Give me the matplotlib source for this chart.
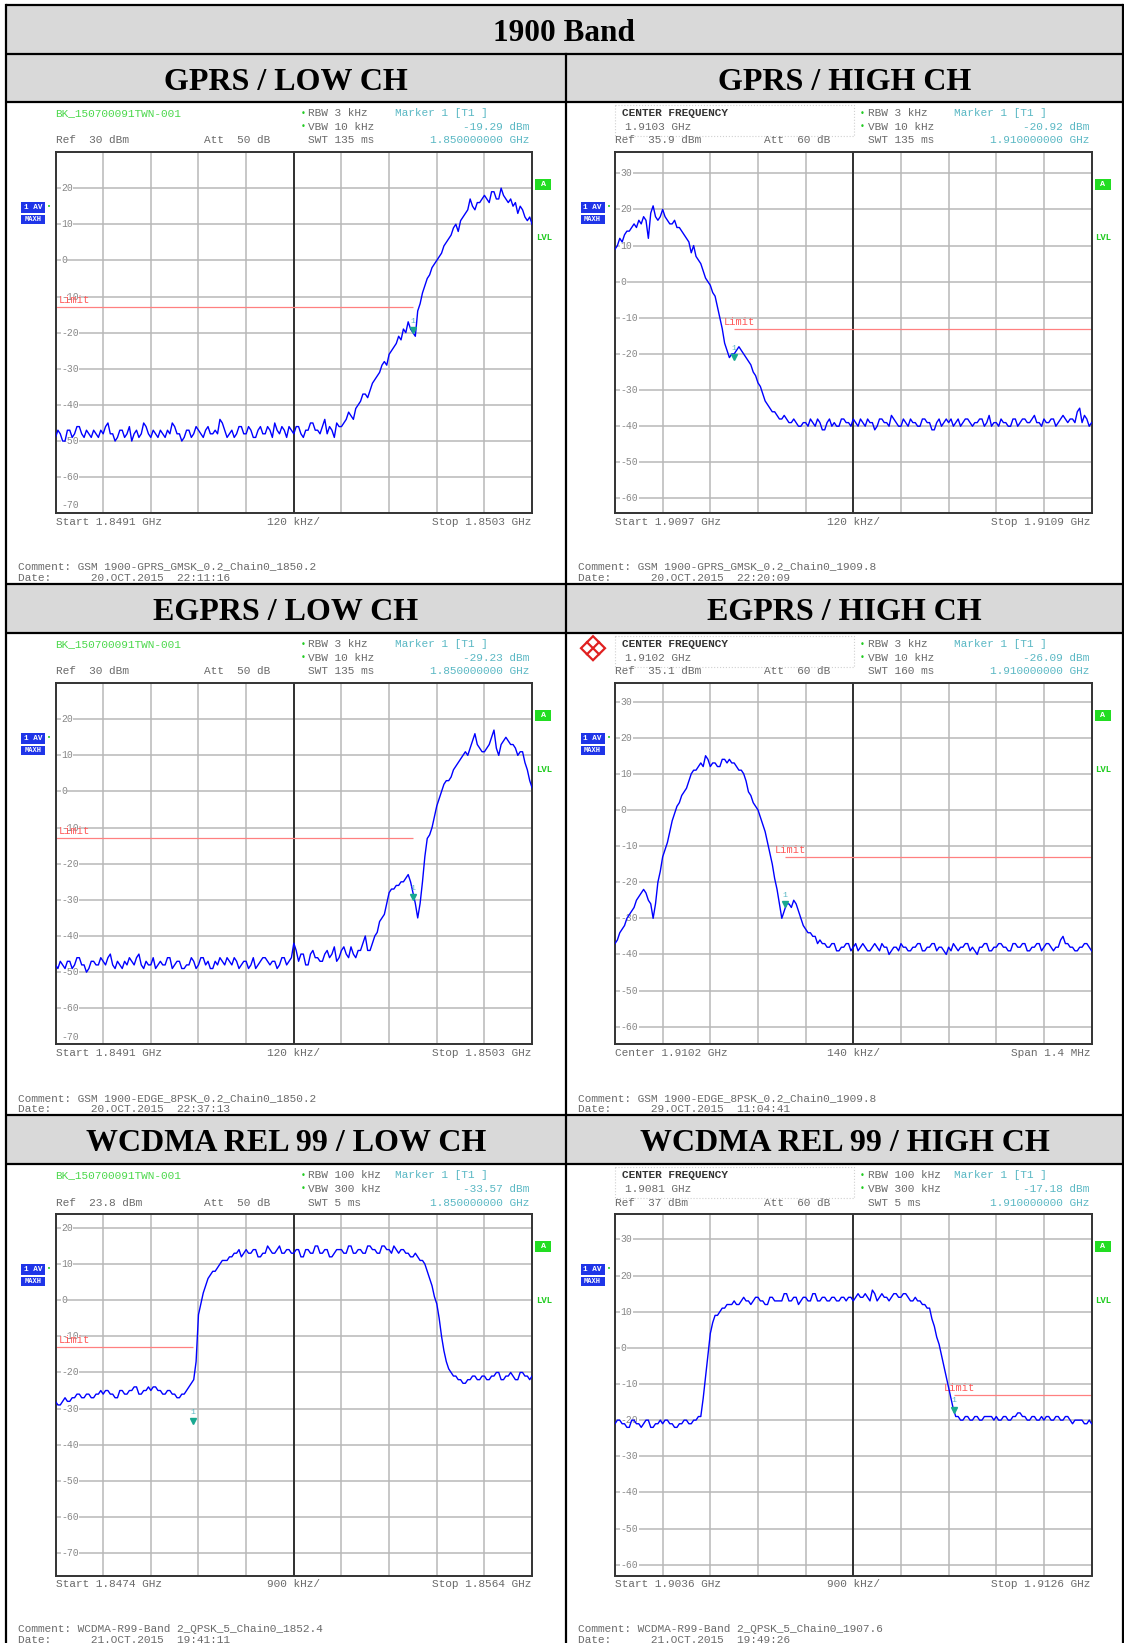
import numpy as np
import matplotlib
matplotlib.use("Agg")
import matplotlib.pyplot as plt
from matplotlib.patches import Rectangle, Polygon

W, H = 1124, 1643
MONO = "Liberation Mono"
SERIF = "Liberation Serif"

# ---- data ----
BAND_TITLE = "1900 Band"
HEADERS = ["GPRS / LOW CH", "GPRS / HIGH CH", "EGPRS / LOW CH", "EGPRS / HIGH CH",
           "WCDMA REL 99 / LOW CH", "WCDMA REL 99 / HIGH CH"]
REF_DBM = [30, 35.9, 30, 35.1, 23.8, 37]
OFFSET_DB = ["13.9", "13.9", "13.9", "13.9", "13.5", "13.5"]
ATT_DB = ["50", "60", "50", "60", "50", "60"]
RBW = ["3 kHz", "3 kHz", "3 kHz", "3 kHz", "100 kHz", "100 kHz"]
VBW = ["10 kHz", "10 kHz", "10 kHz", "10 kHz", "300 kHz", "300 kHz"]
SWT = ["135 ms", "135 ms", "135 ms", "160 ms", "5 ms", "5 ms"]
CENTER_FREQ = [None, "1.9103 GHz", None, "1.9102 GHz", None, "1.9081 GHz"]
MARKER_DBM = [-19.29, -20.92, -29.23, -26.09, -33.57, -17.18]
MARKER_GHZ = ["1.850000000", "1.910000000", "1.850000000",
              "1.910000000", "1.850000000", "1.910000000"]
MARKER_DIV = [7.5, 2.5, 7.5, 3.57, 2.89, 7.11]
LIMIT_DBM = -13
LIMIT_FROM = [0, 2.5, 0, 3.57, 0, 7.11]
LIMIT_TO = [7.5, 10, 7.5, 10, 2.89, 10]
AXIS_LEFT = ["Start 1.8491 GHz", "Start 1.9097 GHz", "Start 1.8491 GHz",
             "Center 1.9102 GHz", "Start 1.8474 GHz", "Start 1.9036 GHz"]
AXIS_MID = ["120 kHz/", "120 kHz/", "120 kHz/", "140 kHz/", "900 kHz/", "900 kHz/"]
AXIS_RIGHT = ["Stop 1.8503 GHz", "Stop 1.9109 GHz", "Stop 1.8503 GHz",
              "Span 1.4 MHz", "Stop 1.8564 GHz", "Stop 1.9126 GHz"]
COMMENTS = ["Comment: GSM 1900-GPRS_GMSK_0.2_Chain0_1850.2",
            "Comment: GSM 1900-GPRS_GMSK_0.2_Chain0_1909.8",
            "Comment: GSM 1900-EDGE_8PSK_0.2_Chain0_1850.2",
            "Comment: GSM 1900-EDGE_8PSK_0.2_Chain0_1909.8",
            "Comment: WCDMA-R99-Band 2_QPSK_5_Chain0_1852.4",
            "Comment: WCDMA-R99-Band 2_QPSK_5_Chain0_1907.6"]
DATES = ["20.OCT.2015  22:11:16", "20.OCT.2015  22:20:09", "20.OCT.2015  22:37:13",
         "29.OCT.2015  11:04:41", "21.OCT.2015  19:41:11", "21.OCT.2015  19:49:26"]

# traces in dBm, one value every 0.05 division (20 per grid division)
TRACE_GPRS_LOW = [
    -49, -47, -48, -50, -50, -47, -47, -49, -48, -46, -46, -48, -49, -47, -48, -49, -47, -48, -49, -47,
    -48, -46, -45, -48, -48, -50, -49, -47, -47, -49, -48, -46, -50, -48, -47, -49, -48, -45, -46, -48,
    -49, -47, -48, -49, -47, -48, -49, -47, -48, -45, -46, -48, -48, -50, -49, -47, -47, -49, -48, -46,
    -47, -48, -49, -47, -46, -48, -48, -47, -48, -44, -45, -47, -49, -48, -47, -49, -48, -46, -46, -48,
    -48, -46, -47, -49, -49, -47, -46, -48, -48, -46, -47, -49, -45, -47, -48, -46, -47, -49, -46, -47,
    -48, -46, -46, -48, -49, -47, -47, -45, -45, -47, -47, -48, -46, -44, -48, -46, -47, -49, -45, -46,
    -46, -45, -44, -42, -43, -44, -41, -40, -39, -37, -37, -38, -36, -34, -33, -32, -31, -29, -28, -29,
    -26, -25, -24, -23, -21, -22, -19, -20, -17, -19, -20, -21, -14, -12, -9, -7, -5, -4, -2, -1,
    0, 1, 2, 4, 5, 6, 7, 9, 10, 8, 11, 12, 13, 14, 17, 15, 14, 16, 16, 17,
    18, 17, 16, 19, 19, 17, 17, 20, 18, 17, 16, 17, 15, 16, 13, 15, 14, 12, 11, 12, 10]
TRACE_GPRS_HIGH = [
    9, 10, 12, 11, 13, 14, 14, 15, 16, 15, 17, 16, 18, 17, 12, 19, 21, 18, 17, 18,
    20, 18, 17, 16, 16, 17, 15, 15, 14, 13, 12, 11, 8, 10, 7, 6, 5, 3, 1, 0,
    -1, -3, -4, -7, -10, -13, -17, -19, -21, -20, -20, -19, -18, -19, -20, -21, -22, -23, -25, -26,
    -28, -29, -31, -33, -34, -35, -36, -36, -37, -38, -38, -37, -38, -39, -39, -38, -39, -40, -40, -39,
    -39, -40, -38, -39, -40, -38, -39, -41, -41, -39, -38, -40, -39, -40, -40, -38, -38, -39, -39, -40,
    -38, -39, -40, -38, -39, -40, -38, -39, -39, -41, -40, -38, -38, -39, -39, -40, -37, -38, -39, -40,
    -40, -38, -39, -40, -38, -39, -39, -40, -40, -38, -38, -39, -39, -41, -41, -39, -38, -40, -39, -38,
    -39, -38, -40, -39, -38, -40, -39, -38, -38, -39, -40, -39, -39, -38, -38, -40, -39, -37, -40, -39,
    -39, -40, -38, -39, -39, -40, -40, -38, -38, -40, -39, -38, -38, -39, -39, -38, -37, -39, -39, -40,
    -38, -39, -39, -38, -38, -40, -39, -38, -37, -38, -39, -38, -38, -39, -36, -35, -39, -37, -38, -40, -39]
TRACE_EGPRS_LOW = [
    -48, -49, -47, -48, -49, -47, -47, -49, -48, -46, -46, -48, -48, -50, -49, -47, -47, -48, -48, -46,
    -47, -48, -46, -45, -48, -49, -47, -48, -49, -47, -48, -46, -47, -48, -46, -45, -48, -49, -47, -48,
    -48, -46, -49, -48, -47, -48, -48, -46, -46, -49, -48, -47, -47, -49, -49, -48, -48, -46, -47, -49,
    -48, -46, -46, -48, -47, -49, -49, -47, -48, -46, -47, -48, -46, -47, -48, -46, -47, -49, -48, -47,
    -47, -49, -48, -46, -49, -48, -47, -46, -46, -47, -48, -47, -47, -49, -48, -46, -46, -48, -47, -46,
    -42, -44, -47, -45, -45, -48, -48, -45, -44, -46, -46, -47, -47, -45, -44, -46, -45, -43, -47, -46,
    -44, -43, -45, -46, -43, -45, -46, -44, -44, -42, -40, -44, -44, -42, -40, -39, -36, -35, -34, -31,
    -28, -27, -27, -26, -26, -25, -25, -24, -23, -25, -28, -31, -35, -31, -25, -18, -13, -12, -10, -7,
    -4, -2, 0, 2, 3, 3, 4, 6, 7, 8, 9, 10, 11, 10, 12, 14, 16, 13, 12, 11,
    11, 12, 13, 15, 17, 12, 10, 13, 14, 15, 14, 13, 13, 12, 10, 11, 11, 8, 6, 3, 1]
TRACE_EGPRS_HIGH = [
    -37, -36, -34, -33, -32, -30, -29, -28, -27, -25, -24, -23, -22, -23, -25, -26, -30, -26, -20, -17,
    -13, -11, -9, -6, -3, -1, 1, 2, 4, 5, 6, 8, 10, 11, 11, 12, 13, 12, 15, 14,
    12, 13, 13, 12, 12, 14, 14, 13, 14, 13, 13, 12, 11, 11, 10, 8, 5, 4, 2, 1,
    0, -2, -4, -6, -9, -12, -15, -19, -22, -26, -30, -28, -26, -26, -27, -25, -26, -28, -30, -32,
    -33, -34, -34, -35, -35, -37, -36, -37, -37, -38, -38, -37, -37, -39, -39, -38, -38, -37, -37, -39,
    -38, -37, -39, -38, -37, -38, -39, -39, -38, -37, -38, -39, -37, -38, -38, -40, -39, -38, -38, -39,
    -37, -38, -38, -39, -39, -38, -38, -37, -37, -39, -39, -38, -38, -37, -37, -39, -38, -38, -39, -40,
    -38, -39, -37, -38, -39, -38, -38, -37, -37, -39, -38, -39, -40, -38, -38, -37, -37, -39, -39, -38,
    -38, -37, -37, -38, -38, -39, -39, -37, -37, -38, -38, -37, -37, -39, -39, -38, -38, -37, -37, -39,
    -38, -37, -37, -38, -39, -38, -38, -36, -35, -37, -37, -38, -38, -39, -39, -38, -38, -37, -37, -38, -39]
TRACE_WCDMA_LOW = [
    -28, -29, -29, -28, -27, -28, -28, -27, -27, -26, -26, -27, -27, -26, -26, -27, -27, -26, -26, -25,
    -26, -25, -25, -26, -26, -27, -27, -25, -25, -26, -26, -25, -25, -24, -24, -26, -26, -25, -25, -24,
    -25, -24, -24, -25, -25, -26, -26, -25, -25, -26, -26, -27, -27, -26, -26, -25, -24, -23, -22, -17,
    -4, -1, 2, 4, 6, 7, 8, 8, 9, 10, 11, 11, 11, 12, 12, 13, 13, 14, 12, 13,
    14, 13, 13, 14, 14, 12, 12, 13, 13, 15, 14, 13, 13, 14, 15, 13, 13, 14, 14, 13,
    13, 14, 14, 12, 12, 14, 14, 13, 13, 15, 15, 13, 13, 14, 14, 12, 12, 13, 14, 14,
    14, 13, 13, 15, 15, 13, 13, 14, 14, 13, 13, 15, 15, 14, 14, 13, 13, 15, 15, 14,
    14, 13, 15, 14, 13, 14, 14, 13, 13, 12, 12, 13, 12, 11, 11, 10, 8, 6, 4, 1,
    -1, -5, -10, -14, -17, -19, -20, -21, -21, -22, -22, -23, -23, -22, -22, -21, -21, -22, -22, -21,
    -21, -22, -22, -21, -21, -20, -20, -22, -22, -21, -21, -20, -21, -22, -22, -20, -20, -21, -21, -22, -21]
TRACE_WCDMA_HIGH = [
    -21, -20, -20, -21, -21, -22, -22, -20, -20, -21, -21, -22, -21, -20, -20, -22, -22, -21, -21, -20,
    -21, -20, -20, -21, -21, -22, -22, -21, -21, -20, -20, -21, -21, -20, -20, -19, -19, -14, -8, -2,
    4, 7, 9, 9, 10, 11, 11, 12, 12, 12, 13, 12, 12, 13, 14, 13, 13, 12, 13, 14,
    14, 13, 13, 12, 12, 14, 14, 13, 13, 13, 13, 15, 15, 13, 13, 14, 14, 12, 13, 14,
    14, 13, 13, 15, 15, 13, 13, 14, 14, 13, 13, 14, 14, 13, 13, 14, 14, 13, 14, 14,
    13, 14, 15, 14, 14, 15, 14, 13, 16, 15, 13, 14, 15, 14, 14, 13, 14, 15, 15, 14,
    14, 15, 15, 14, 13, 13, 14, 13, 13, 12, 12, 11, 11, 8, 6, 3, 1, -2, -5, -8,
    -11, -14, -17, -19, -19, -20, -20, -19, -19, -20, -20, -19, -19, -20, -20, -19, -19, -19, -19, -20,
    -19, -20, -20, -19, -19, -20, -20, -19, -19, -18, -18, -19, -19, -20, -20, -19, -19, -20, -20, -19,
    -20, -19, -19, -20, -20, -19, -19, -20, -20, -19, -19, -20, -21, -20, -20, -20, -20, -21, -21, -20, -21]
TRACES = [TRACE_GPRS_LOW, TRACE_GPRS_HIGH, TRACE_EGPRS_LOW,
          TRACE_EGPRS_HIGH, TRACE_WCDMA_LOW, TRACE_WCDMA_HIGH]

# ---- layout (pixels) ----
TABLE_L, TABLE_R, COL_X = 5.5, 1123, 566
TITLE_TOP, TITLE_BOT = 5, 53.5
HEAD_TOPS = [53.5, 583.5, 1114.6]
BODY_TOPS = [101.6, 632.7, 1163.8]
BOX_LEFT = [55.5, 615]
BOX_W, BOX_H, BOX_DY = 476.6, 361.3, 50.4

GREEN = "#4cd84c"
TEAL = "#5ab8c4"
GRAY = "#6a6a6a"

fig = plt.figure(figsize=(W / 100, H / 100), dpi=100)
bg = fig.add_axes([0, 0, 1, 1])
bg.set_xlim(0, W)
bg.set_ylim(H, 0)
bg.axis("off")

# table
bg.add_patch(Rectangle((TABLE_L, TITLE_TOP), TABLE_R - TABLE_L, TITLE_BOT - TITLE_TOP,
                       fc="#d9d9d9", ec="none"))
for ht, bt in zip(HEAD_TOPS, BODY_TOPS):
    bg.add_patch(Rectangle((TABLE_L, ht), TABLE_R - TABLE_L, bt - ht, fc="#d9d9d9", ec="none"))
for y in [TITLE_TOP, TITLE_BOT] + HEAD_TOPS[1:] + BODY_TOPS:
    bg.plot([TABLE_L, TABLE_R], [y, y], color="black", lw=1.6, solid_capstyle="butt")
bg.plot([TABLE_L, TABLE_L], [TITLE_TOP, H], color="black", lw=1.6)
bg.plot([TABLE_R, TABLE_R], [TITLE_TOP, H], color="black", lw=1.6)
bg.plot([COL_X, COL_X], [TITLE_BOT, H], color="black", lw=1.6)

bg.text((TABLE_L + TABLE_R) / 2, (TITLE_TOP + TITLE_BOT) / 2 + 4, BAND_TITLE,
        family=SERIF, weight="bold", fontsize=22.5, ha="center", va="center")

for i in range(6):
    r, c = divmod(i, 2)
    ref = REF_DBM[i]
    bt = BODY_TOPS[r]
    bl = BOX_LEFT[c]
    top = bt + BOX_DY
    right = bl + BOX_W
    bottom = top + BOX_H
    colc = (TABLE_L + COL_X) / 2 if c == 0 else (COL_X + TABLE_R) / 2
    bg.text(colc, (HEAD_TOPS[r] + bt) / 2 + 4.5, HEADERS[i], family=SERIF, weight="bold",
            fontsize=23, ha="center", va="center")

    y1, y2, y3 = bt + 11.5, bt + 25, bt + 38.8
    tkw = dict(family=MONO, fontsize=8, va="center")
    if CENTER_FREQ[i]:
        bg.add_patch(Rectangle((bl, bt + 3), 239, 31.5, fill=False, ec="#d0d0d0",
                               lw=0.8, ls=":"))
        bg.text(bl + 7, y1, "CENTER FREQUENCY", color="#333333", weight="bold", **tkw)
        bg.text(bl + 10, y2, CENTER_FREQ[i], color=GRAY, **tkw)
    else:
        bg.text(bl, y1, "BK_150700091TWN-001", color=GREEN, **tkw)
    for yy in (y1, y2):
        bg.text(bl + 245, yy, "•", color="#22cc22", family="DejaVu Sans", fontsize=6,
                va="center")
    bg.text(bl + 253, y1, "RBW " + RBW[i], color=GRAY, **tkw)
    bg.text(bl + 253, y2, "VBW " + VBW[i], color=GRAY, **tkw)
    bg.text(bl + 253, y3, "SWT " + SWT[i], color=GRAY, **tkw)
    bg.text(bl + 339.5, y1, "Marker 1 [T1 ]", color=TEAL, **tkw)
    bg.text(bl + 474, y2, f"{MARKER_DBM[i]:.2f} dBm", color=TEAL, ha="right", **tkw)
    bg.text(bl + 474, y3, MARKER_GHZ[i] + " GHz", color=TEAL, ha="right", **tkw)
    bg.text(bl, y3, f"Ref  {ref:g} dBm", color=GRAY, **tkw)
    bg.text(bl + 149, y3, f"Att  {ATT_DB[i]} dB", color=GRAY, **tkw)

    prefix = "30 " if ref == 30 else "   "
    bg.text(bl + 3, top + 7.5, prefix + "Offset  " + OFFSET_DB[i] + " dB", color=GRAY,
            zorder=5, **tkw)
    bg.text(bl + 177, top + 19, "LIMIT CHECK", color="#7cc8cc", zorder=5, **tkw)
    bg.text(bl + 270, top + 19, "PASS", color="#7cc8cc", zorder=5, **tkw)

    # side indicators
    bg.add_patch(Rectangle((bl - 34.5, top + 50), 24, 10.6, fc="#1f35e8", ec="none"))
    bg.text(bl - 22.5, top + 55.3, "1 AV", color="white", family=MONO, fontsize=5.5,
            weight="bold", ha="center", va="center")
    bg.add_patch(Rectangle((bl - 34.5, top + 62.7), 24, 9.3, fc="#1f35e8", ec="none"))
    bg.text(bl - 22.5, top + 67.4, "MAXH", color="white", family=MONO, fontsize=5,
            weight="bold", ha="center", va="center")
    bg.text(bl - 8, top + 55, "•", color="#22cc22", family="DejaVu Sans", fontsize=5,
            va="center")
    bg.add_patch(Rectangle((right + 3.3, top + 27), 15.7, 10.6, fc="#22dd22", ec="none"))
    bg.text(right + 11, top + 32.3, "A", color="white", family=MONO, fontsize=6,
            weight="bold", ha="center", va="center")
    bg.text(right + 4, top + 86, "LVL", color="#22cc22", family=MONO, fontsize=6.5,
            weight="bold", va="center")

    if i == 3:
        cx, cy, s = bl - 22, bt + 15.5, 12
        bg.add_patch(Polygon([(cx, cy - s), (cx + s, cy), (cx, cy + s), (cx - s, cy)],
                             closed=True, fill=False, ec="#e02020", lw=1.6))
        bg.plot([cx - s / 2, cx + s / 2], [cy - s / 2, cy + s / 2], color="#e02020", lw=1.6)
        bg.plot([cx + s / 2, cx - s / 2], [cy - s / 2, cy + s / 2], color="#e02020", lw=1.6)

    # frequency axis labels and comments
    yb = bottom + 8.4
    bg.text(bl, yb, AXIS_LEFT[i], color=GRAY, **tkw)
    bg.text(bl + BOX_W / 2, yb, AXIS_MID[i], color=GRAY, ha="center", **tkw)
    bg.text(right - 1, yb, AXIS_RIGHT[i], color=GRAY, ha="right", **tkw)
    bg.text(bl - 37, bt + 465, COMMENTS[i], color=GRAY, **tkw)
    bg.text(bl - 37, bt + 476.6, "Date:      " + DATES[i], color=GRAY, **tkw)

    # spectrum plot
    ax = fig.add_axes([bl / W, 1 - bottom / H, BOX_W / W, BOX_H / H])
    ax.set_xlim(0, 10)
    ax.set_ylim(ref - 100, ref)
    levels = [lv for lv in range(-80, 40, 10) if ref - 100 <= lv < ref]
    ax.set_xticks(range(1, 10))
    ax.set_yticks(levels)
    ax.tick_params(length=0, labelleft=False, labelbottom=False)
    ax.grid(color="#b8b8b8", lw=1.1)
    ax.set_axisbelow(True)
    ax.axvline(5, color="#303030", lw=1.4, zorder=1)
    for sp in ax.spines.values():
        sp.set_color("#333333")
        sp.set_linewidth(1.4)
    for lv in levels:
        va = "bottom" if lv == ref - 100 else "center"
        ax.text(0.12, lv + (0.8 if va == "bottom" else 0), str(lv), color="#888888",
                family=MONO, fontsize=7, va=va, ha="left", zorder=1.5,
                bbox=dict(fc="white", ec="none", pad=0.3))
    x = np.linspace(0, 10, len(TRACES[i]))
    ax.plot(x, TRACES[i], color="#0000ff", lw=1.0, zorder=3)
    ax.hlines(LIMIT_DBM, LIMIT_FROM[i], LIMIT_TO[i], color="#ff8080", lw=0.9, zorder=2)
    lab_x = LIMIT_FROM[i] + 0.07 if LIMIT_FROM[i] == 0 else LIMIT_FROM[i] - 0.22
    ax.annotate("Limit", (lab_x, LIMIT_DBM), xytext=(0, 1.5),
                textcoords="offset points", color="#ff5a5a", family=MONO, fontsize=7.5,
                va="bottom", zorder=2)
    ax.plot([MARKER_DIV[i]], [MARKER_DBM[i]], marker="v", color="#18a890", ms=5, zorder=4)
    ax.annotate("1", (MARKER_DIV[i], MARKER_DBM[i]), xytext=(0, 4),
                textcoords="offset points", color=TEAL, family=MONO, fontsize=6,
                ha="center", va="bottom", zorder=4)

fig.savefig("out.png", dpi=100)
